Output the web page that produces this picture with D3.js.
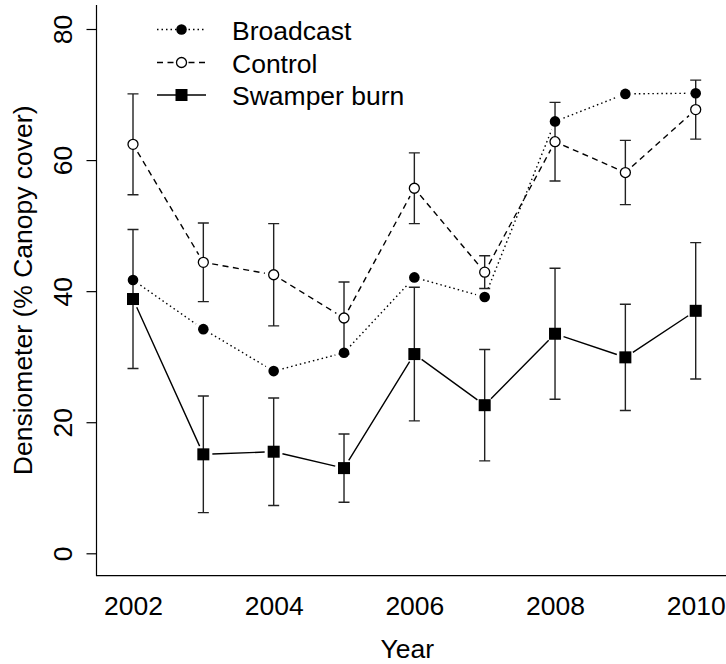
<!DOCTYPE html>
<html><head><meta charset="utf-8">
<script src="https://cdn.jsdelivr.net/npm/d3@7"></script>
<style>
body{margin:0;background:#fff}
svg{display:block}
text{font-family:"Liberation Sans",Arial,Helvetica,sans-serif;fill:#000}
</style>
</head><body>
<svg id="c" width="726" height="664"></svg>
<script>
const years = [2002,2003,2004,2005,2006,2007,2008,2009,2010];
const broadcast = [41.7,34.2,27.8,30.6,42.1,39.1,65.9,70.1,70.2];
const control = [62.4,44.4,42.5,35.9,55.7,42.9,62.8,58.1,67.7];
const controlErr = [7.7,6.0,7.8,5.5,5.4,2.5,6.0,4.9,4.5];
const swamper = [38.8,15.1,15.5,13.0,30.4,22.6,33.5,29.9,37.0];
const swamperErr = [10.6,8.9,8.2,5.2,10.2,8.5,10.0,8.1,10.4];
const xTicks = [2002,2004,2006,2008,2010];
const yTicks = [0,20,40,60,80];
const seriesNames = ["Broadcast","Control","Swamper burn"];

(function(){
const FS = 26.5;
const svg = d3.select("#c");
const x = d3.scaleLinear().domain([2002,2010]).range([133,695.7]);
const y = d3.scaleLinear().domain([0,80]).range([553.3,29]);
const pL = 96.5, pB = 575.7, pT = 5, pR = 740;

svg.append("path").attr("d",`M${pL},${pT}V${pB}H${pR}`)
  .attr("fill","none").attr("stroke","#000").attr("stroke-width",1.2);

const ya = svg.append("g").attr("transform",`translate(${pL},0)`)
  .call(d3.axisLeft(y).tickValues(yTicks).tickSize(10).tickPadding(0).tickFormat(d3.format("d")));
ya.select(".domain").remove();
ya.selectAll("line").attr("stroke","#000").attr("stroke-width",1.2);
ya.selectAll("text").attr("font-size",FS).attr("text-anchor","middle")
  .attr("x",0).attr("dy",null).attr("y",0)
  .attr("transform",`translate(-34,0) rotate(-90)`)
  .attr("dominant-baseline","central")
  .style("font-family",'"Liberation Sans",Arial,sans-serif');

const xa = svg.append("g").attr("transform",`translate(0,${pB})`)
  .call(d3.axisBottom(x).tickValues(xTicks).tickSize(0).tickPadding(0).tickFormat(d3.format("d")));
xa.select(".domain").remove();
xa.selectAll("line").remove();
xa.selectAll("text").attr("font-size",FS).attr("dy",null).attr("y",30)
  .attr("dominant-baseline","central")
  .style("font-family",'"Liberation Sans",Arial,sans-serif');

svg.append("text").attr("x",(pL+726)/2-4).attr("y",649).attr("text-anchor","middle")
  .attr("dominant-baseline","central").attr("font-size",FS).text("Year");
svg.append("text").attr("transform",`translate(23,${(pT+pB)/2}) rotate(-90)`)
  .attr("text-anchor","middle").attr("dominant-baseline","central").attr("font-size",FS)
  .text("Densiometer (% Canopy cover)");

function gapped(vals, gap){
  const pts = years.map((yr,i)=>[x(yr),y(vals[i])]);
  let d = "";
  for(let i=0;i<pts.length-1;i++){
    const [x0,y0]=pts[i],[x1,y1]=pts[i+1];
    const L=Math.hypot(x1-x0,y1-y0);
    if(L<=2*gap) continue;
    const ux=(x1-x0)/L, uy=(y1-y0)/L;
    d += `M${x0+ux*gap},${y0+uy*gap}L${x1-ux*gap},${y1-uy*gap}`;
  }
  return d;
}
const GAP = 9;
svg.append("path").attr("d",gapped(broadcast,GAP)).attr("fill","none")
  .attr("stroke","#000").attr("stroke-width",1.4).attr("stroke-dasharray","1.5,3");
svg.append("path").attr("d",gapped(control,GAP)).attr("fill","none")
  .attr("stroke","#000").attr("stroke-width",1.4).attr("stroke-dasharray","6,4.5");
svg.append("path").attr("d",gapped(swamper,GAP)).attr("fill","none")
  .attr("stroke","#000").attr("stroke-width",1.4);

function errbars(vals, errs){
  const g = svg.append("g").attr("stroke","#222").attr("stroke-width",1.4).attr("fill","none");
  years.forEach((yr,i)=>{
    const cx=x(yr), yt=y(vals[i]+errs[i]), yb=y(vals[i]-errs[i]);
    g.append("path").attr("d",`M${cx},${yt}V${yb}M${cx-5.5},${yt}H${cx+5.5}M${cx-5.5},${yb}H${cx+5.5}`);
  });
}
errbars(control, controlErr);
errbars(swamper, swamperErr);

svg.append("g").selectAll("circle").data(years).join("circle")
  .attr("cx",d=>x(d)).attr("cy",(d,i)=>y(broadcast[i])).attr("r",5.3).attr("fill","#000");
svg.append("g").selectAll("circle").data(years).join("circle")
  .attr("cx",d=>x(d)).attr("cy",(d,i)=>y(control[i])).attr("r",5)
  .attr("fill","#fff").attr("stroke","#000").attr("stroke-width",1.3);
svg.append("g").selectAll("rect").data(years).join("rect")
  .attr("x",d=>x(d)-6).attr("y",(d,i)=>y(swamper[i])-6).attr("width",12).attr("height",12).attr("fill","#000");

const lg = svg.append("g");
const rows = [29.5,62.5,95];
const dashes = ["1.5,3","6,4.5",null];
seriesNames.forEach((nm,i)=>{
  const ry = rows[i];
  const ln = lg.append("line").attr("x1",157).attr("x2",206).attr("y1",ry).attr("y2",ry)
    .attr("stroke","#000").attr("stroke-width",1.4);
  if(dashes[i]) ln.attr("stroke-dasharray",dashes[i]);
  if(i===0) lg.append("circle").attr("cx",181.5).attr("cy",ry).attr("r",5.3).attr("fill","#000");
  if(i===1) lg.append("circle").attr("cx",181.5).attr("cy",ry).attr("r",5).attr("fill","#fff").attr("stroke","#000").attr("stroke-width",1.3);
  if(i===2) lg.append("rect").attr("x",175.5).attr("y",ry-6).attr("width",12).attr("height",12).attr("fill","#000");
  lg.append("text").attr("x",232).attr("y",ry+1).attr("dominant-baseline","central")
    .attr("font-size",FS).text(nm);
});
})();
</script>
</body></html>
